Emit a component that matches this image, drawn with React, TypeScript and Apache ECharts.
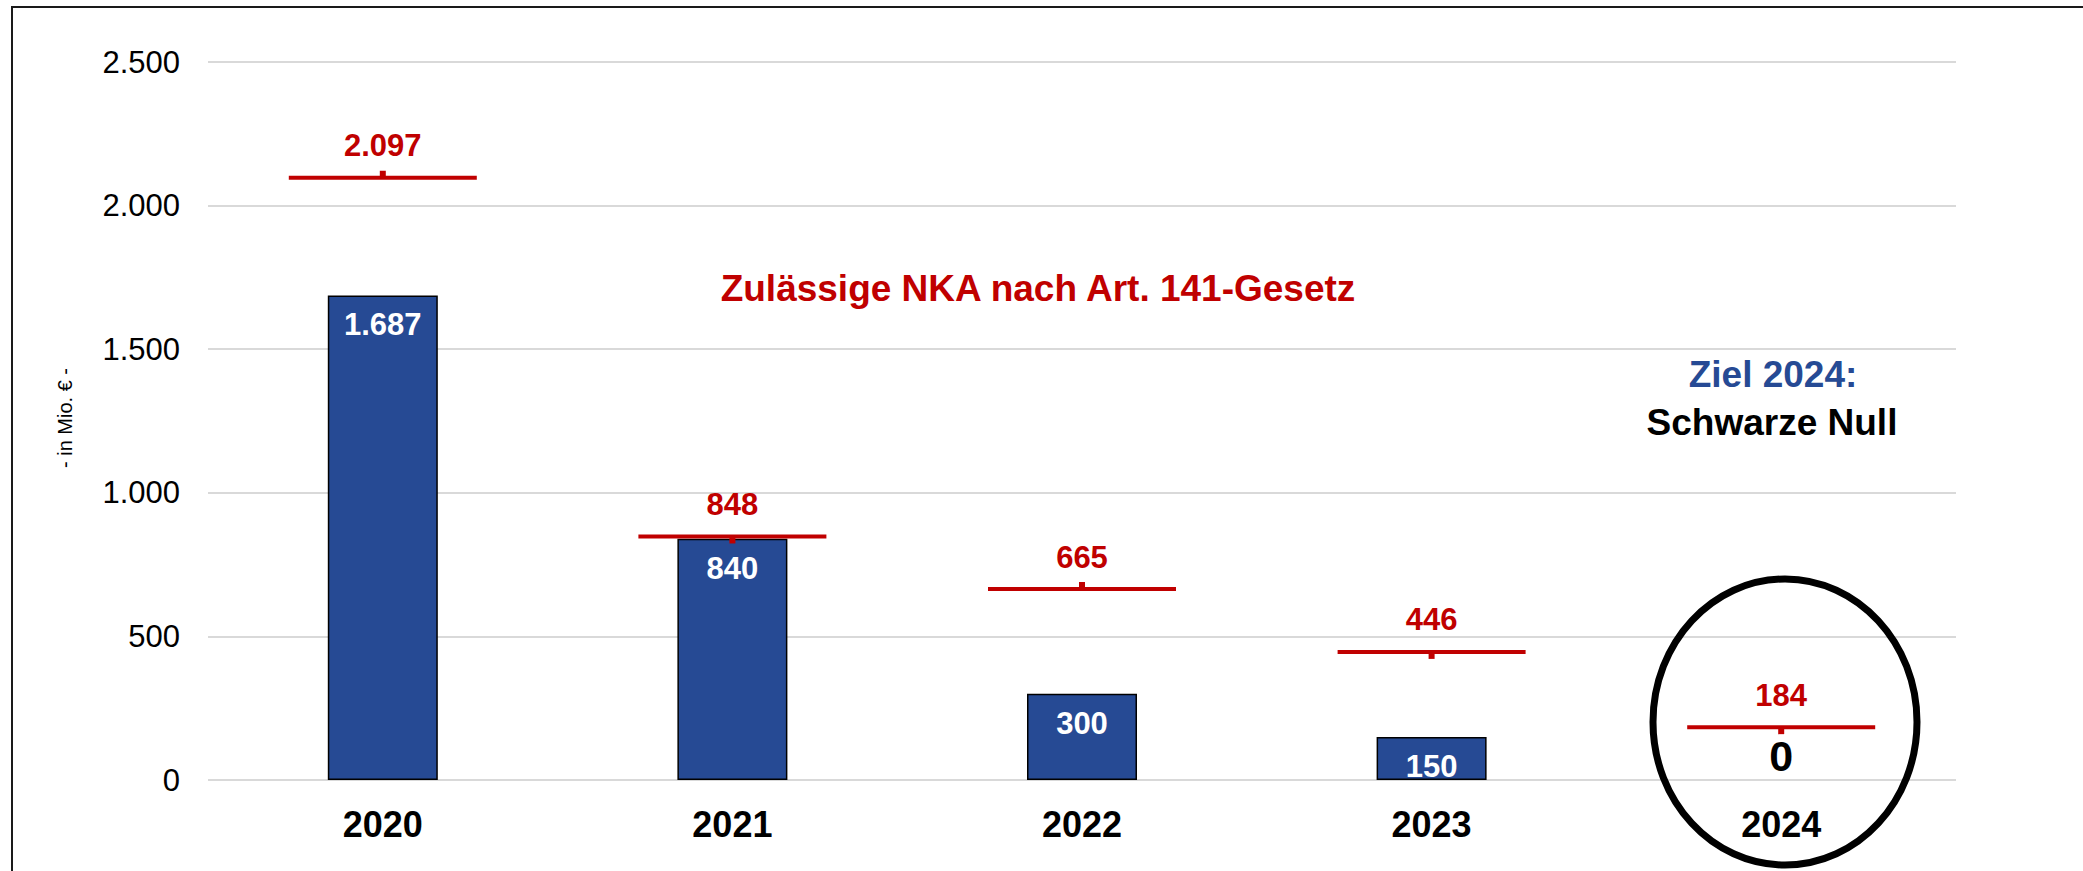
import React, { useEffect, useRef } from "react";
import * as echarts from "echarts";

const years = ["2020", "2021", "2022", "2023", "2024"];
const nkaValues = [1687, 840, 300, 150, 0];
const allowedValues = [2097, 848, 665, 446, 184];
const yTicks = { min: 0, max: 2500, interval: 500 };
const titleText = "Zulässige NKA nach Art. 141-Gesetz";
const goalLine1 = "Ziel 2024:";
const goalLine2 = "Schwarze Null";
const yAxisName = "- in Mio. € -";

const FONT = "'Liberation Sans', Arial, Helvetica, sans-serif";
const RED = "#C00000";
const BLUE = "#264A94";
const tickUp = [true, false, true, false, false];

const fmt = (v: number) => String(v).replace(/\B(?=(\d{3})+(?!\d))/g, ".");

export default function App() {
  const ref = useRef<HTMLDivElement>(null);
  useEffect(() => {
    if (!ref.current) return;
    const chart = echarts.init(ref.current, null, { renderer: "svg" });
    const option: any = {
      animation: false,
      backgroundColor: "#ffffff",
      grid: { left: 208, right: 127, top: 62, bottom: 91, containLabel: false },
      xAxis: {
        type: "category",
        data: years,
        axisLine: { show: false },
        axisTick: { show: false },
        axisLabel: {
          color: "#000",
          fontFamily: FONT,
          fontWeight: "bold",
          fontSize: 36,
          margin: 26,
        },
      },
      yAxis: {
        type: "value",
        min: yTicks.min,
        max: yTicks.max,
        interval: yTicks.interval,
        axisLine: { show: false },
        axisTick: { show: false },
        splitLine: { lineStyle: { color: "#D9D9D9", width: 2 } },
        axisLabel: {
          color: "#000",
          fontFamily: FONT,
          fontSize: 31,
          margin: 28,
          formatter: (v: number) => fmt(v),
        },
      },
      series: [
        {
          type: "bar",
          barWidth: 110,
          z: 2,
          itemStyle: { color: BLUE, borderColor: "#000", borderWidth: 1.5 },
          label: {
            show: true,
            position: "insideTop",
            distance: 14,
            color: "#fff",
            fontFamily: FONT,
            fontWeight: "bold",
            fontSize: 31,
            formatter: (p: any) => fmt(p.value),
          },
          data: nkaValues.map((v) =>
            v === 0
              ? {
                  value: v,
                  itemStyle: { borderWidth: 0, color: "transparent" },
                  label: {
                    position: "top",
                    distance: 3,
                    color: "#000",
                    fontSize: 43,
                  },
                }
              : v
          ),
        },
        {
          type: "custom",
          z: 5,
          clip: false,
          data: allowedValues.map((v, i) => [i, v]),
          renderItem: (params: any, api: any) => {
            const idx = api.value(0);
            const val = api.value(1);
            const pt = api.coord([idx, val]);
            const x = pt[0];
            const y = pt[1];
            return {
              type: "group",
              children: [
                {
                  type: "rect",
                  shape: { x: x - 94, y: y - 2, width: 188, height: 4 },
                  style: { fill: RED },
                },
                {
                  type: "rect",
                  shape: {
                    x: x - 3,
                    y: tickUp[params.dataIndex] ? y - 7 : y + 1,
                    width: 6,
                    height: 6,
                  },
                  style: { fill: RED },
                },
                {
                  type: "text",
                  x: x,
                  y: y - 32,
                  style: {
                    text: fmt(val),
                    fill: RED,
                    font: `bold 31px ${FONT}`,
                    align: "center",
                    verticalAlign: "middle",
                  },
                },
              ],
            };
          },
        },
      ],
      graphic: [
        {
          type: "rect",
          shape: { x: 12, y: 7, width: 2200, height: 1000 },
          style: { fill: "none", stroke: "#1a1a1a", lineWidth: 2 },
          z: 10,
        },
        {
          type: "text",
          x: 1038,
          y: 288,
          style: {
            text: titleText,
            fill: RED,
            font: `bold 37px ${FONT}`,
            align: "center",
            verticalAlign: "middle",
          },
        },
        {
          type: "text",
          x: 1773,
          y: 374,
          style: {
            text: goalLine1,
            fill: BLUE,
            font: `bold 37px ${FONT}`,
            align: "center",
            verticalAlign: "middle",
          },
        },
        {
          type: "text",
          x: 1772,
          y: 422,
          style: {
            text: goalLine2,
            fill: "#000",
            font: `bold 37px ${FONT}`,
            align: "center",
            verticalAlign: "middle",
          },
        },
        {
          type: "text",
          x: 65,
          y: 418,
          rotation: Math.PI / 2,
          style: {
            text: yAxisName,
            fill: "#000",
            font: `20px ${FONT}`,
            align: "center",
            verticalAlign: "middle",
          },
        },
        {
          type: "ellipse",
          shape: { cx: 1785, cy: 722, rx: 132, ry: 143 },
          style: { fill: "none", stroke: "#000", lineWidth: 7 },
          z: 10,
        },
      ],
    };
    chart.setOption(option);
    return () => chart.dispose();
  }, []);
  return (
    <div
      ref={ref}
      style={{ position: "fixed", left: 0, top: 0, width: 2083, height: 871 }}
    />
  );
}
